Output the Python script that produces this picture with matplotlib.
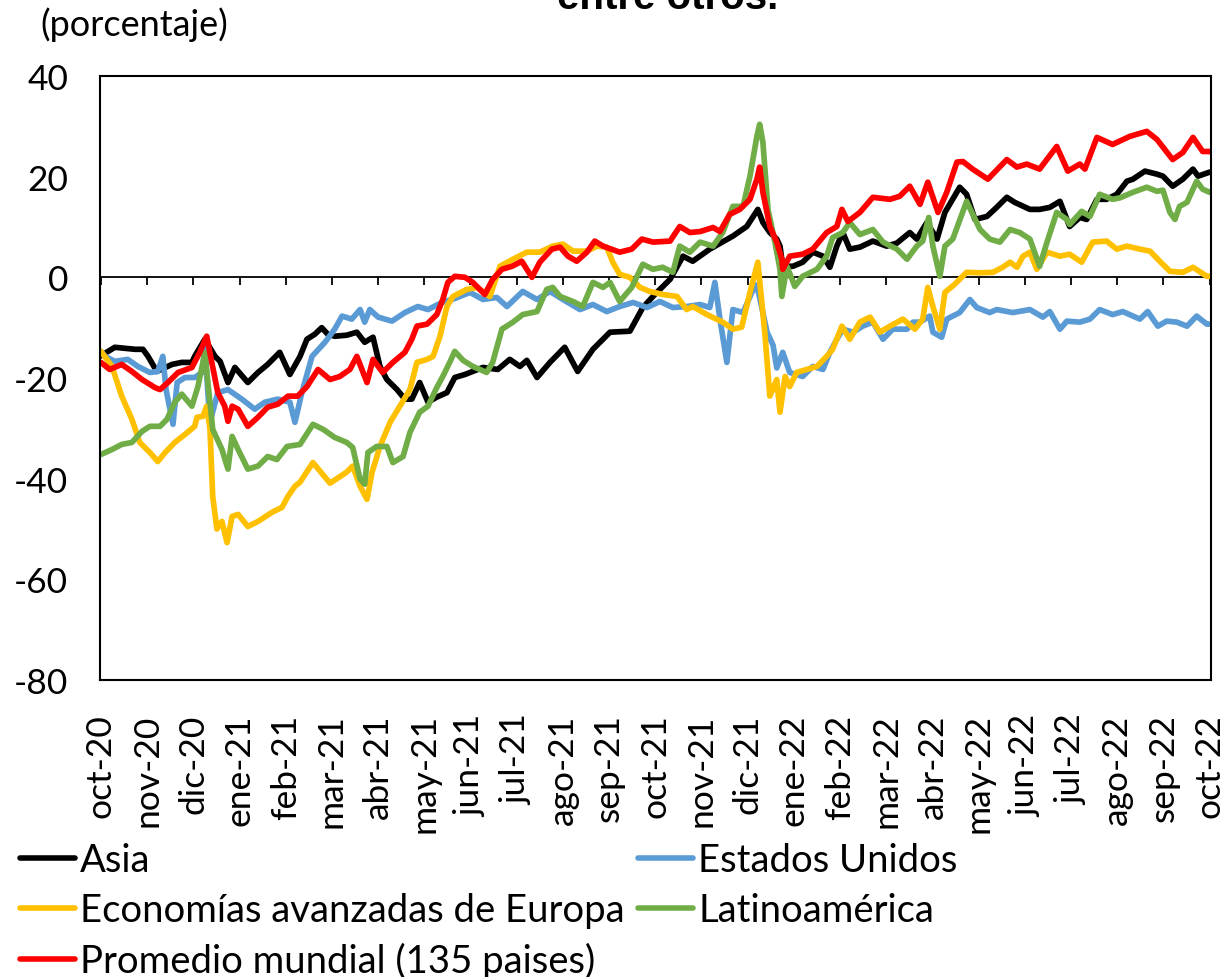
import matplotlib
matplotlib.use("Agg")
import matplotlib.pyplot as plt

plt.rcParams['font.family'] = ['Lato', 'DejaVu Sans']

month_labels = ['oct-20', 'nov-20', 'dic-20', 'ene-21', 'feb-21', 'mar-21', 'abr-21',
                'may-21', 'jun-21', 'jul-21', 'ago-21', 'sep-21', 'oct-21', 'nov-21',
                'dic-21', 'ene-22', 'feb-22', 'mar-22', 'abr-22', 'may-22', 'jun-22',
                'jul-22', 'ago-22', 'sep-22', 'oct-22']

# x positions: months elapsed since 1 Oct 2020
asia_x = [0, 0.30, 0.74, 0.91, 1.02, 1.21, 1.54, 1.75, 1.97, 2.03, 2.25, 2.47, 2.58, 2.75, 2.90,
          3.18, 3.40, 3.61, 3.87, 4.09, 4.31, 4.46, 4.63, 4.78, 4.91, 5.06, 5.32, 5.54, 5.71,
          5.89, 6.04, 6.19, 6.41, 6.58, 6.73, 6.90, 7.08, 7.27, 7.49, 7.66, 7.88, 8.27, 8.59,
          8.85, 9.07, 9.22, 9.44, 9.72, 10.04, 10.32, 10.65, 11.02, 11.45, 11.73, 11.99, 12.32,
          12.60, 12.81, 13.18, 13.68, 13.98, 14.22, 14.33, 14.48, 14.63, 14.70, 14.76, 14.98,
          15.19, 15.41, 15.63, 15.78, 15.93, 16.06, 16.21, 16.43, 16.71, 17.01, 17.23, 17.51,
          17.66, 17.88, 18.10, 18.27, 18.59, 18.74, 18.92, 19.18, 19.39, 19.61, 19.78, 20.11,
          20.32, 20.54, 20.76, 20.97, 21.19, 21.34, 21.56, 21.77, 21.99, 22.21, 22.34, 22.60,
          22.86, 22.99, 23.20, 23.42, 23.64, 23.75, 24.00]
asia_y = [-15.6, -13.9, -14.3, -14.3, -15.7, -18.7, -17.3, -16.9, -16.9, -15.7, -12.3, -15.7,
          -16.7, -20.9, -17.9, -20.9, -18.9, -17.3, -14.9, -19.3, -15.7, -12.3, -11.3, -10.0,
          -11.3, -11.7, -11.5, -10.9, -12.9, -11.9, -17.7, -20.3, -22.3, -24.2, -24.2, -20.9,
          -24.8, -23.8, -22.9, -19.9, -19.3, -17.9, -18.3, -16.3, -17.7, -16.5, -19.9, -16.9,
          -13.9, -18.7, -14.3, -10.9, -10.7, -6.0, -3.4, -0.4, 4.2, 3.2, 5.6, 8.2, 10.1, 13.5,
          10.9, 8.9, 7.6, 6.2, 2.2, 2.2, 3.0, 5.0, 4.2, 2.0, 6.2, 8.9, 5.6, 6.0, 7.2, 6.2, 6.8,
          8.9, 7.6, 10.9, 7.6, 12.9, 17.9, 16.5, 11.5, 12.1, 13.9, 15.9, 14.9, 13.5, 13.5, 13.9,
          15.1, 10.1, 11.9, 11.5, 15.5, 15.5, 16.5, 19.1, 19.5, 21.1, 20.5, 20.1, 18.1, 19.5,
          21.5, 20.1, 20.9]

eeuu_x = [0, 0.09, 0.30, 0.58, 0.80, 1.06, 1.23, 1.34, 1.41, 1.56, 1.65, 1.82, 2.03, 2.19, 2.25,
          2.36, 2.53, 2.75, 3.05, 3.33, 3.55, 3.83, 4.09, 4.20, 4.35, 4.57, 4.85, 5.06, 5.22,
          5.43, 5.61, 5.71, 5.82, 6.00, 6.30, 6.58, 6.86, 7.08, 7.38, 7.66, 7.99, 8.27, 8.57,
          8.79, 9.13, 9.44, 9.72, 10.00, 10.37, 10.65, 10.95, 11.23, 11.52, 11.82, 12.10, 12.38,
          12.68, 12.97, 13.18, 13.29, 13.40, 13.55, 13.68, 13.90, 14.09, 14.20, 14.42, 14.55,
          14.63, 14.76, 14.91, 15.19, 15.41, 15.63, 15.78, 15.93, 16.06, 16.28, 16.49, 16.71,
          16.93, 17.14, 17.45, 17.58, 17.73, 17.94, 18.01, 18.20, 18.31, 18.59, 18.81, 18.96,
          19.24, 19.39, 19.74, 20.11, 20.39, 20.54, 20.76, 20.91, 21.19, 21.41, 21.62, 21.90,
          22.12, 22.49, 22.66, 22.88, 23.07, 23.29, 23.51, 23.72, 23.94, 24.00]
eeuu_y = [-14.7, -15.7, -16.7, -16.3, -17.7, -18.9, -18.7, -15.7, -22.3, -29.2, -20.9, -19.9,
          -19.9, -18.9, -14.0, -28.8, -22.9, -22.3, -24.2, -26.2, -24.8, -24.2, -24.8, -28.8,
          -22.9, -15.7, -12.9, -10.3, -7.7, -8.3, -6.4, -8.9, -6.4, -7.9, -8.7, -7.0, -5.8, -6.4,
          -5.0, -4.2, -3.0, -4.4, -4.0, -5.8, -2.8, -4.4, -2.8, -4.4, -6.4, -5.4, -6.8, -5.8,
          -5.0, -6.0, -4.8, -6.0, -5.8, -5.4, -6.0, -1.0, -8.3, -16.9, -6.4, -7.0, -3.0, -1.5,
          -10.9, -13.5, -18.0, -14.9, -18.9, -19.7, -17.7, -18.3, -14.9, -12.3, -10.3, -10.9,
          -9.7, -8.9, -12.3, -10.3, -10.3, -8.9, -8.9, -7.7, -10.9, -11.9, -8.3, -7.0, -4.4,
          -6.0, -7.0, -6.4, -7.0, -6.4, -7.9, -6.8, -10.3, -8.7, -8.9, -8.3, -6.4, -7.4, -6.8,
          -8.3, -6.8, -9.7, -8.7, -8.9, -9.7, -7.7, -9.3, -9.3]

europa_x = [0, 0.24, 0.45, 0.67, 0.84, 1.06, 1.23, 1.39, 1.60, 1.82, 2.03, 2.08, 2.21, 2.29,
            2.36, 2.42, 2.51, 2.62, 2.73, 2.84, 2.97, 3.18, 3.40, 3.70, 3.92, 4.05, 4.20, 4.31,
            4.59, 4.96, 5.32, 5.45, 5.61, 5.76, 5.87, 6.04, 6.26, 6.47, 6.69, 6.84, 7.06, 7.19,
            7.34, 7.49, 7.62, 7.92, 8.14, 8.42, 8.64, 8.92, 9.22, 9.50, 9.78, 10.00, 10.22, 10.52,
            10.74, 10.95, 11.08, 11.23, 11.45, 11.67, 11.88, 12.16, 12.47, 12.68, 12.81, 13.12,
            13.46, 13.68, 13.87, 14.05, 14.22, 14.37, 14.48, 14.63, 14.70, 14.81, 14.91, 15.06,
            15.28, 15.50, 15.71, 15.84, 16.04, 16.21, 16.43, 16.65, 16.86, 17.08, 17.36, 17.62,
            17.79, 17.90, 18.01, 18.16, 18.27, 18.48, 18.74, 19.03, 19.31, 19.52, 19.68, 19.83,
            19.96, 20.11, 20.26, 20.48, 20.76, 20.97, 21.23, 21.47, 21.77, 21.99, 22.21, 22.49,
            22.71, 22.92, 23.14, 23.42, 23.64, 23.94, 24.00]
europa_y = [-14.7, -17.7, -23.6, -28.2, -32.8, -34.8, -36.6, -34.8, -32.8, -31.2, -29.6, -27.8,
            -27.6, -25.6, -30.0, -43.5, -50.0, -48.5, -52.7, -47.5, -47.1, -49.5, -48.5, -46.7,
            -45.7, -43.5, -41.5, -40.7, -36.8, -40.9, -38.7, -37.5, -41.5, -44.1, -38.7, -33.6,
            -28.8, -25.6, -22.3, -16.9, -16.3, -15.7, -11.7, -5.8, -3.8, -2.4, -2.0, -3.8, 2.2,
            3.6, 5.0, 5.0, 6.2, 6.6, 5.2, 5.2, 6.2, 6.0, 3.0, 0.6, 0.0, -2.0, -2.8, -3.4, -3.8,
            -6.4, -5.8, -7.4, -8.9, -10.3, -9.9, -3.0, 3.0, -10.9, -23.6, -20.3, -26.8, -19.7,
            -21.7, -18.9, -18.3, -17.7, -15.7, -14.3, -9.7, -12.3, -8.9, -7.9, -10.9, -9.7, -8.3,
            -10.3, -8.3, -2.0, -5.8, -10.3, -3.0, -1.4, 1.0, 0.9, 1.0, 2.0, 3.0, 2.0, 4.2, 5.0,
            1.6, 5.0, 4.2, 4.6, 3.0, 7.0, 7.2, 5.6, 6.2, 5.6, 5.2, 3.2, 1.2, 1.0, 2.0, 0.2, 0.2]

latam_x = [0, 0.24, 0.45, 0.67, 0.89, 1.06, 1.28, 1.43, 1.60, 1.75, 1.97, 2.10, 2.25, 2.42,
           2.62, 2.75, 2.84, 2.97, 3.18, 3.40, 3.61, 3.81, 4.03, 4.31, 4.59, 4.81, 5.06, 5.32,
           5.45, 5.61, 5.71, 5.78, 5.97, 6.19, 6.32, 6.54, 6.69, 6.90, 7.08, 7.27, 7.40, 7.55,
           7.66, 7.84, 8.05, 8.35, 8.48, 8.68, 8.92, 9.13, 9.44, 9.65, 9.78, 9.94, 10.22, 10.43,
           10.65, 10.87, 11.02, 11.23, 11.49, 11.73, 11.95, 12.16, 12.38, 12.53, 12.75, 12.97,
           13.25, 13.46, 13.68, 13.90, 14.05, 14.20, 14.26, 14.33, 14.44, 14.59, 14.70, 14.74,
           14.85, 15.02, 15.19, 15.50, 15.71, 15.84, 16.06, 16.21, 16.43, 16.71, 16.93, 17.23,
           17.45, 17.66, 17.79, 17.92, 18.01, 18.16, 18.27, 18.44, 18.74, 19.03, 19.24, 19.46,
           19.68, 19.89, 20.11, 20.32, 20.48, 20.69, 20.91, 20.97, 21.23, 21.41, 21.62, 21.90,
           22.06, 22.34, 22.64, 22.86, 22.99, 23.14, 23.25, 23.35, 23.51, 23.72, 23.85, 24.00]
latam_y = [-35.2, -34.2, -33.2, -32.8, -30.6, -29.6, -29.6, -28.2, -24.8, -23.2, -25.6, -21.7,
           -15.0, -30.2, -34.2, -38.1, -31.6, -34.2, -38.1, -37.5, -35.6, -36.2, -33.6, -33.2,
           -29.2, -30.2, -31.8, -32.8, -33.8, -40.1, -41.1, -34.8, -33.6, -33.6, -36.8, -35.6,
           -30.8, -26.8, -25.6, -21.9, -19.7, -16.9, -14.7, -16.5, -17.7, -18.9, -16.9, -10.3,
           -8.9, -7.4, -6.8, -2.4, -2.0, -3.8, -4.8, -5.8, -1.0, -2.0, -1.0, -4.8, -2.0, 2.6, 1.6,
           2.0, 1.0, 6.2, 5.0, 7.0, 6.2, 8.9, 14.1, 14.1, 20.1, 28.0, 30.4, 26.8, 13.5, 7.0, 1.6,
           -3.8, 2.2, -1.8, 0.2, 1.6, 4.2, 7.9, 8.9, 10.9, 8.5, 9.5, 7.0, 5.6, 3.6, 6.2, 7.2,
           11.9, 6.2, 0.2, 6.2, 7.6, 15.1, 9.5, 7.6, 7.0, 9.5, 8.9, 7.6, 2.2, 7.0, 12.9, 11.5,
           10.5, 13.1, 12.1, 16.5, 15.5, 15.8, 16.9, 17.9, 17.1, 17.3, 12.9, 11.5, 14.1, 14.9,
           19.1, 17.5, 16.9]

mundo_x = [0, 0.19, 0.45, 0.67, 0.89, 1.17, 1.28, 1.45, 1.67, 1.97, 2.14, 2.29, 2.40, 2.53,
           2.68, 2.75, 2.84, 2.97, 3.18, 3.40, 3.61, 3.83, 4.05, 4.26, 4.46, 4.70, 4.96, 5.17,
           5.39, 5.54, 5.76, 5.89, 6.10, 6.32, 6.58, 6.73, 6.84, 7.06, 7.27, 7.40, 7.51, 7.66,
           7.88, 8.05, 8.31, 8.48, 8.68, 8.90, 9.11, 9.33, 9.50, 9.76, 9.94, 10.11, 10.30, 10.52,
           10.69, 10.87, 11.23, 11.49, 11.71, 11.95, 12.32, 12.53, 12.75, 12.97, 13.25, 13.40,
           13.61, 13.83, 14.05, 14.20, 14.26, 14.33, 14.48, 14.63, 14.74, 14.76, 14.91, 15.19,
           15.41, 15.71, 15.93, 16.04, 16.17, 16.43, 16.71, 17.08, 17.29, 17.51, 17.73, 17.90,
           18.12, 18.31, 18.53, 18.66, 18.87, 19.20, 19.61, 19.83, 20.04, 20.32, 20.69, 20.93,
           21.19, 21.30, 21.56, 21.90, 22.27, 22.64, 22.86, 23.20, 23.42, 23.64, 23.85, 24.00]
mundo_y = [-16.9, -18.3, -17.3, -18.7, -20.3, -21.9, -22.3, -20.9, -18.9, -17.9, -14.9, -11.7,
           -16.9, -22.9, -25.6, -28.6, -25.6, -26.2, -29.6, -27.8, -25.8, -25.2, -23.6, -23.6,
           -21.7, -18.3, -20.3, -19.7, -18.3, -15.7, -20.9, -16.3, -18.9, -16.9, -14.9, -12.3,
           -9.7, -9.3, -7.4, -4.4, -1.0, 0.2, 0.0, -1.0, -3.4, -0.4, 1.6, 2.2, 3.2, 0.0, 3.0, 5.6,
           6.0, 4.2, 3.2, 5.0, 7.2, 6.2, 5.0, 5.6, 7.6, 7.0, 7.2, 10.1, 8.9, 9.1, 9.9, 9.1, 12.5,
           13.5, 15.5, 19.5, 21.9, 16.9, 10.1, 7.0, 3.6, 1.6, 4.2, 4.6, 5.6, 8.9, 10.1, 13.5,
           11.1, 12.9, 15.9, 15.5, 16.1, 18.1, 14.5, 18.9, 12.9, 16.9, 22.9, 23.0, 21.5, 19.5,
           23.4, 21.9, 22.5, 21.5, 26.0, 21.1, 22.5, 21.5, 27.8, 26.4, 28.0, 29.0, 27.4, 23.4,
           24.8, 27.8, 25.0, 25.0]

W, H = 1227, 978
fig = plt.figure(figsize=(W / 100, H / 100), dpi=100)
ax = fig.add_axes([100 / W, 1 - 681 / H, 1111 / W, 604 / H])

lw = 4.1
kw = dict(lw=lw, solid_joinstyle='round', solid_capstyle='round')
l_asia, = ax.plot(asia_x, asia_y, color='#000000', label='Asia', **kw)
l_eeuu, = ax.plot(eeuu_x, eeuu_y, color='#5B9BD5', label='Estados Unidos', **kw)
l_eur, = ax.plot(europa_x, europa_y, color='#FFC000', label='Economías avanzadas de Europa', **kw)
l_lat, = ax.plot(latam_x, latam_y, color='#70AD47', label='Latinoamérica', **kw)
l_mun, = ax.plot(mundo_x, mundo_y, color='#FF0000', label='Promedio mundial (135 paises)', **kw)

ax.set_xlim(-0.02, 24.03)
ax.set_ylim(-80, 40)
ax.set_yticks([-80, -60, -40, -20, 0, 20, 40])
ax.set_yticklabels(['-80', '-60', '-40', '-20', '0', '20', '40'], fontsize=25.5)
ax.tick_params(axis='y', length=0, pad=23)
ax.set_xticks(range(25))
ax.set_xticklabels(month_labels, rotation=90, fontsize=25.5, va='top', ha='center')
ax.tick_params(axis='x', length=0, pad=24)

# horizontal axis at zero with month tick marks
ax.axhline(0, color='black', lw=1.3, zorder=1)
ax.vlines(range(25), -1.6, 0, color='black', lw=1.3, zorder=1)

for s in ax.spines.values():
    s.set_linewidth(1.5)
    s.set_color('black')

fig.text(40 / W, 1 - 25 / H, '(porcentaje)', fontsize=26, ha='left', va='center')
fig.text(668 / W, 1 - 9 / H, 'entre otros.', fontsize=29, fontweight='bold',
         family='Liberation Sans', ha='center', va='baseline')

leg = fig.legend(handles=[l_asia, l_eur, l_mun, l_eeuu, l_lat], ncol=2,
                 loc='upper left', bbox_to_anchor=(20 / W, 1 - 843 / H),
                 frameon=False, fontsize=27.5, handlelength=1.45, handletextpad=0.13,
                 columnspacing=0.34, labelspacing=0.37, borderaxespad=0, borderpad=0)
for line in leg.get_lines():
    line.set_linewidth(4)

fig.savefig('out.png', dpi=100)
